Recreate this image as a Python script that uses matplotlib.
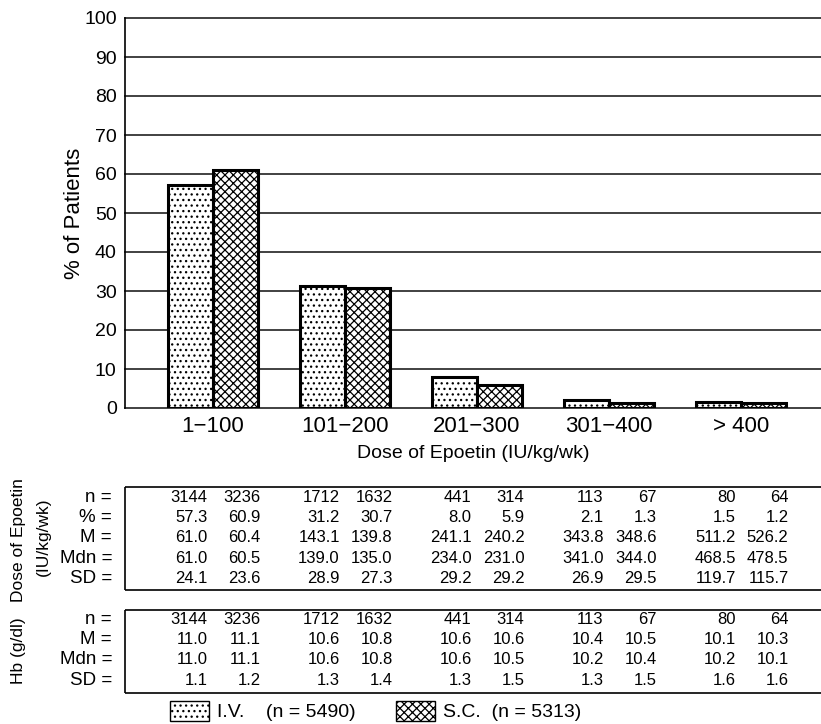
import matplotlib
matplotlib.use('Agg')
import matplotlib.pyplot as plt
from matplotlib.patches import Patch

plt.rcParams['font.family'] = ['Liberation Sans', 'DejaVu Sans']
plt.rcParams['hatch.linewidth'] = 0.9

# dose groups (IU/kg/wk)
groups = ['1\u2212100', '101\u2212200', '201\u2212300', '301\u2212400', '> 400']

# dose of epoetin per group
n_iv = [3144, 1712, 441, 113, 80]
n_sc = [3236, 1632, 314, 67, 64]
pct_iv = [57.3, 31.2, 8.0, 2.1, 1.5]
pct_sc = [60.9, 30.7, 5.9, 1.3, 1.2]
m_iv = [61.0, 143.1, 241.1, 343.8, 511.2]
m_sc = [60.4, 139.8, 240.2, 348.6, 526.2]
mdn_iv = [61.0, 139.0, 234.0, 341.0, 468.5]
mdn_sc = [60.5, 135.0, 231.0, 344.0, 478.5]
sd_iv = [24.1, 28.9, 29.2, 26.9, 119.7]
sd_sc = [23.6, 27.3, 29.2, 29.5, 115.7]

# haemoglobin per group
hb_m_iv = [11.0, 10.6, 10.6, 10.4, 10.1]
hb_m_sc = [11.1, 10.8, 10.6, 10.5, 10.3]
hb_mdn_iv = [11.0, 10.6, 10.6, 10.2, 10.2]
hb_mdn_sc = [11.1, 10.8, 10.5, 10.4, 10.1]
hb_sd_iv = [1.1, 1.3, 1.3, 1.3, 1.6]
hb_sd_sc = [1.2, 1.4, 1.5, 1.5, 1.6]

W, H = 821, 724
fig = plt.figure(figsize=(W / 100, H / 100), dpi=100)

left = 125 / W
bottom = (H - 408) / H
ax = fig.add_axes([left, bottom, 1 - left, (408 - 18) / H])

x = list(range(len(groups)))
bw = 0.34
ax.bar([i - bw / 2 for i in x], pct_iv, width=bw, facecolor='white',
       edgecolor='black', linewidth=2.2, hatch='...', zorder=3)
ax.bar([i + bw / 2 for i in x], pct_sc, width=bw, facecolor='white',
       edgecolor='black', linewidth=2.2, hatch='xxxx', zorder=3)

ax.set_xlim(-0.667, 4.606)
ax.set_ylim(0, 100)
ax.set_yticks(range(0, 101, 10))
ax.set_xticks(x)
ax.set_xticklabels(groups, fontsize=16)
ax.tick_params(axis='y', length=0, pad=6, labelsize=14)
ax.tick_params(axis='x', length=0, pad=6)
ax.grid(axis='y', color='#333333', linewidth=1.3, zorder=0)
for gl in ax.get_ygridlines():
    gl.set_clip_on(False)
for s in ['top', 'right', 'bottom']:
    ax.spines[s].set_visible(False)
ax.spines['left'].set_linewidth(1.2)

ax.set_ylabel('% of Patients', fontsize=16, va='center')
ax.yaxis.set_label_coords(-51 / 696, 0.5)
ax.set_xlabel('Dose of Epoetin (IU/kg/wk)', fontsize=14, va='center')
ax.xaxis.set_label_coords(0.5, -(453 - 408) / 390)

# statistics tables under the bars, y measured in pixels from the top
tab = fig.add_axes([left, 0, 1 - left, bottom], sharex=ax)
tab.set_ylim(H, 408)
tab.axis('off')
x0, x1 = ax.get_xlim()


def box(top, bot):
    tab.hlines([top, bot], x0, x1, color='black', linewidth=1.2, clip_on=False)
    tab.vlines(x0, top, bot, color='black', linewidth=1.2, clip_on=False)


def row(y, label, iv, sc, fmt):
    tab.text(-0.765, y, label, ha='right', va='center', fontsize=13.5)
    for i in x:
        tab.text(i - 0.04, y, fmt.format(iv[i]), ha='right', va='center', fontsize=12)
        tab.text(i + 0.36, y, fmt.format(sc[i]), ha='right', va='center', fontsize=12)


box(487, 590)
row(497, 'n =', n_iv, n_sc, '{}')
row(517, '% =', pct_iv, pct_sc, '{:.1f}')
row(537, 'M =', m_iv, m_sc, '{:.1f}')
row(558, 'Mdn =', mdn_iv, mdn_sc, '{:.1f}')
row(578, 'SD =', sd_iv, sd_sc, '{:.1f}')

box(610, 693)
row(619, 'n =', n_iv, n_sc, '{}')
row(639, 'M =', hb_m_iv, hb_m_sc, '{:.1f}')
row(659, 'Mdn =', hb_mdn_iv, hb_mdn_sc, '{:.1f}')
row(680, 'SD =', hb_sd_iv, hb_sd_sc, '{:.1f}')

fig.text(18 / W, 1 - 540 / H, 'Dose of Epoetin', rotation=90, ha='center', va='center', fontsize=12.5)
fig.text(43 / W, 1 - 537 / H, '(IU/kg/wk)', rotation=90, ha='center', va='center', fontsize=12.5)
fig.text(18 / W, 1 - 651 / H, 'Hb (g/dl)', rotation=90, ha='center', va='center', fontsize=12.5)

handles = [Patch(facecolor='white', edgecolor='black', hatch='...', linewidth=1),
           Patch(facecolor='white', edgecolor='black', hatch='xxxx', linewidth=1)]
fig.legend(handles, ['I.V.    (n = 5490)', 'S.C.  (n = 5313)'], ncol=2,
           loc='center left', bbox_to_anchor=(170 / W, 1 - 711 / H),
           frameon=False, fontsize=14, handlelength=2.0, handleheight=1.2,
           handletextpad=0.4, columnspacing=2.1, borderpad=0, borderaxespad=0)

fig.savefig('out.png', dpi=100)
